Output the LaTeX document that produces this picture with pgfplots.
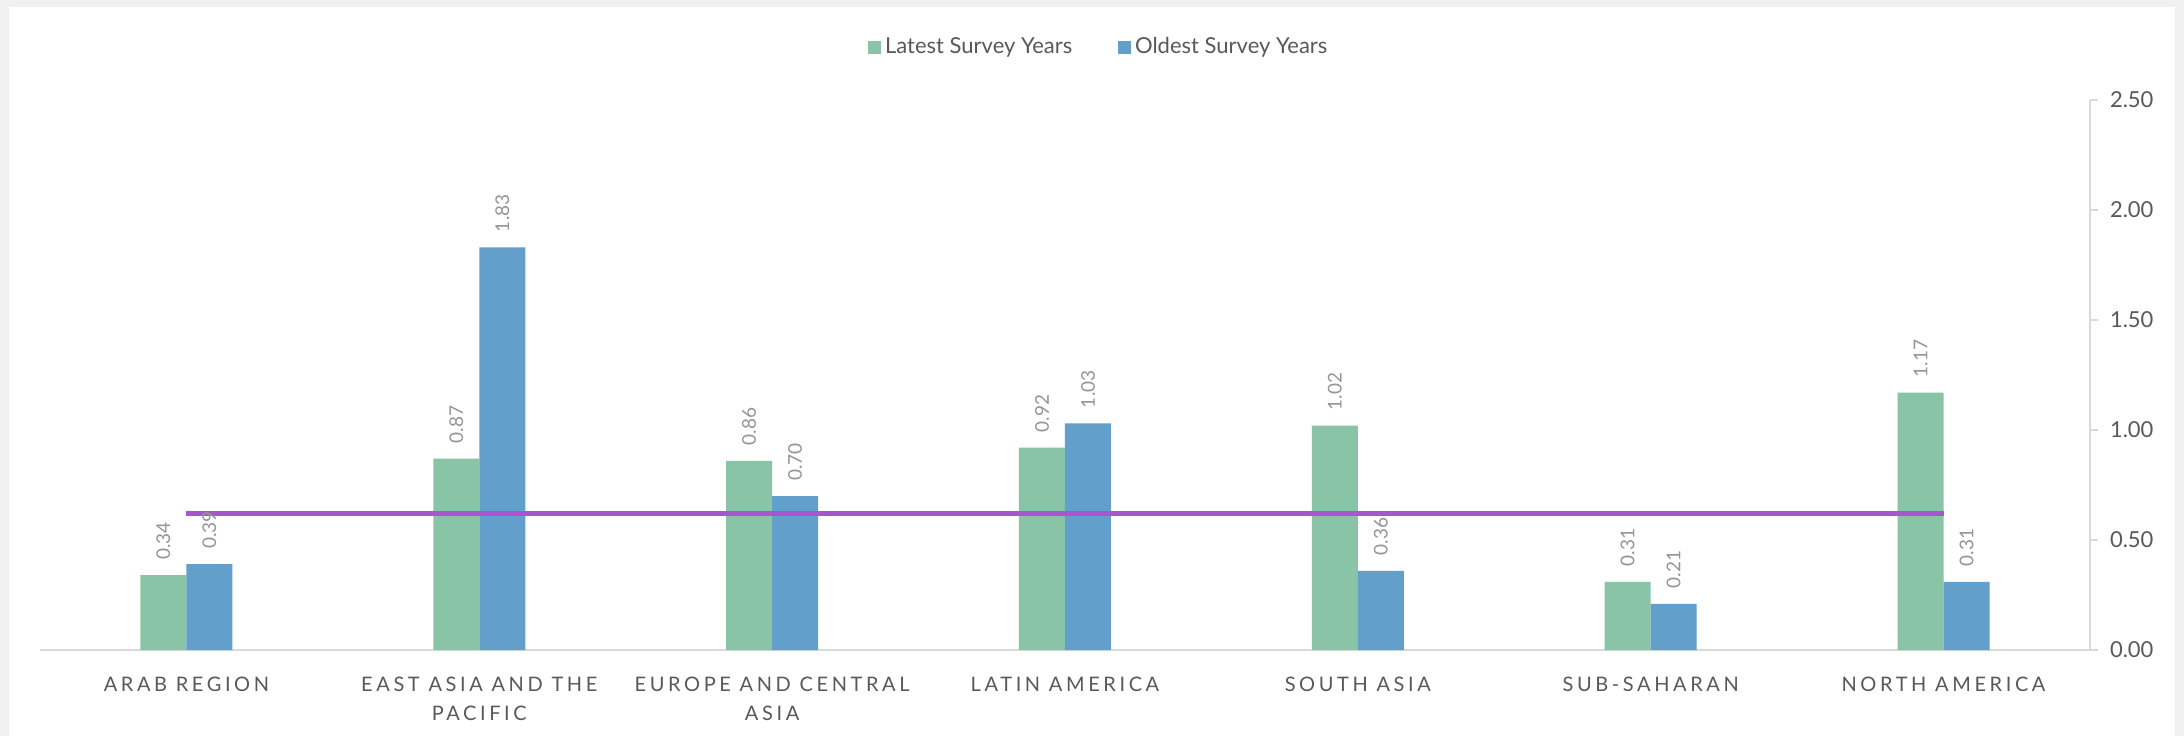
\documentclass[border=0pt]{standalone}
\usepackage{pgfplots}
\pgfplotsset{compat=1.18}
\usepackage{fontspec}
\setmainfont{Lato}
\newfontfamily\spacedfont{Lato}[LetterSpace=18]
\definecolor{bggray}{HTML}{F0F0F0}
\definecolor{cgreen}{HTML}{89C4A6}
\definecolor{cblue}{HTML}{629FCB}
\definecolor{cpurple}{HTML}{A855D0}
\definecolor{axgray}{HTML}{D9D9D9}
\definecolor{txtgray}{HTML}{595959}
\definecolor{lblgray}{HTML}{959595}
\begin{document}
\begin{tikzpicture}
\path[use as bounding box] (0,0) rectangle (1092pt,368pt);
\fill[bggray] (0,0) rectangle (1092pt,368pt);
\fill[white] (4.5pt,0) rectangle (1087.5pt,364.5pt);
\begin{axis}[
  at={(20pt,43pt)}, anchor=south west,
  scale only axis, width=1025pt, height=275pt,
  ymin=0, ymax=2.5, xmin=-0.5, xmax=6.5,
  enlargelimits=false, clip=false,
  ybar=0pt, bar width=23pt,
  axis x line=bottom, axis y line=right,
  axis line style={axgray, line width=1pt, -},
  xtick={0,1,2,3,4,5,6},
  xticklabels={ARAB REGION, {EAST ASIA AND THE\\PACIFIC}, {EUROPE AND CENTRAL\\ASIA}, LATIN AMERICA, SOUTH ASIA, SUB-SAHARAN, NORTH AMERICA},
  xtick style={draw=none},
  xticklabel style={font=\spacedfont\fontsize{10}{14.5}\selectfont, text=txtgray, align=center, yshift=-6pt},
  ytick={0,0.5,1,1.5,2,2.5},
  tick align=outside, major tick length=4pt,
  ytick style={axgray, line width=1pt},
  /pgf/number format/assume math mode=true,
  yticklabel style={font=\fontsize{11}{13}\selectfont, text=txtgray, xshift=2.5pt, /pgf/number format/.cd, fixed, fixed zerofill, precision=2},
  nodes near coords={\pgfmathprintnumber[fixed,fixed zerofill,precision=2,assume math mode=true]{\pgfplotspointmeta}},
  nodes near coords style={rotate=90, anchor=west, font=\fontsize{9.5}{11}\selectfont, text=lblgray, inner xsep=7.5pt, inner ysep=0pt},
  legend style={at={(0.517,1.096)}, anchor=center, draw=none, fill=none, legend columns=2, font=\fontsize{11}{13}\selectfont, text=txtgray, /tikz/every even column/.append style={column sep=21pt}},
]
\addplot[fill=cgreen, draw=none, legend image code/.code={\fill[cgreen] (0pt,-3.2pt) rectangle (6.4pt,3.2pt);}] coordinates {(0,0.34) (1,0.87) (2,0.86) (3,0.92) (4,1.02) (5,0.31) (6,1.17)};
\addlegendentry{Latest Survey Years}
\addplot[fill=cblue, draw=none, legend image code/.code={\fill[cblue] (0pt,-3.2pt) rectangle (6.4pt,3.2pt);}] coordinates {(0,0.39) (1,1.83) (2,0.70) (3,1.03) (4,0.36) (5,0.21) (6,0.31)};
\addlegendentry{Oldest Survey Years}
\addplot[sharp plot, cpurple, line width=2.5pt, no marks, forget plot, nodes near coords={}] coordinates {(0,0.62) (6,0.62)};
\end{axis}
\end{tikzpicture}
\end{document}
